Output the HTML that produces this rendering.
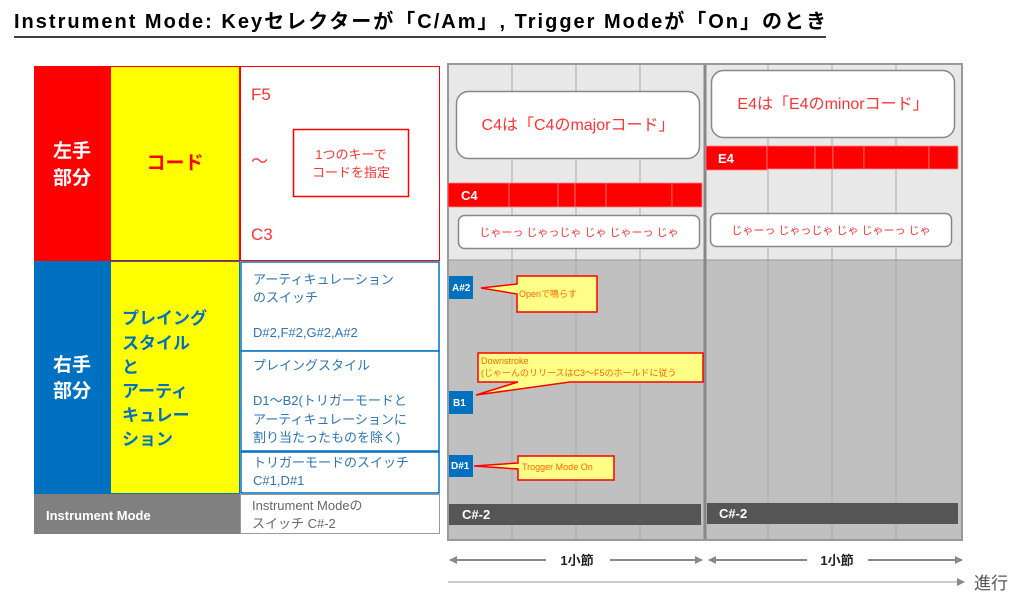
<!DOCTYPE html>
<html><head><meta charset="utf-8"><style>
body{margin:0;width:1024px;height:610px;background:#fff;overflow:hidden;font-family:"Liberation Sans","Noto Sans CJK JP",sans-serif;}
svg text{font-family:"Liberation Sans","Noto Sans CJK JP",sans-serif;}
</style></head><body>
<svg width="1024" height="610" viewBox="0 0 1024 610" xmlns="http://www.w3.org/2000/svg">
<defs>
<marker id="ah" markerWidth="8" markerHeight="8" refX="7" refY="4" orient="auto-start-reverse" markerUnits="userSpaceOnUse"><path d="M0,0 L8,4 L0,8 z" fill="#888"/></marker>
</defs>
<!-- title -->
<text x="14" y="28" font-size="20" font-weight="bold" fill="#000" textLength="812" lengthAdjust="spacing">Instrument Mode: Keyセレクターが「C/Am」, Trigger Modeが「On」のとき</text>
<line x1="14" y1="37" x2="826" y2="37" stroke="#000" stroke-width="1.5"/>

<!-- left table -->
<rect x="34" y="66" width="76" height="195" fill="#ff0000"/>
<text x="72" y="157" font-size="19" font-weight="bold" fill="#fff" text-anchor="middle">左手</text>
<text x="72" y="184" font-size="19" font-weight="bold" fill="#fff" text-anchor="middle">部分</text>
<rect x="110.5" y="66.5" width="129" height="194" fill="#ffff00" stroke="#ff0000"/>
<text x="175" y="169" font-size="19" font-weight="bold" fill="#ff0000" text-anchor="middle">コード</text>
<rect x="240.5" y="66.5" width="199" height="194" fill="#fff" stroke="#ff0000"/>
<text x="251" y="100" font-size="17" fill="#ff3333">F5</text>
<text x="251" y="167" font-size="17" fill="#ff3333">～</text>
<text x="251" y="240" font-size="17" fill="#ff3333">C3</text>
<rect x="293.5" y="129.5" width="115" height="67" fill="#fff" stroke="#ff0000" stroke-width="1.5"/>
<text x="351" y="159" font-size="13" fill="#ff3333" text-anchor="middle">1つのキーで</text>
<text x="351" y="177" font-size="13" fill="#ff3333" text-anchor="middle">コードを指定</text>

<rect x="34" y="261" width="76" height="233" fill="#0070c0"/>
<text x="72" y="371" font-size="19" font-weight="bold" fill="#fff" text-anchor="middle">右手</text>
<text x="72" y="397" font-size="19" font-weight="bold" fill="#fff" text-anchor="middle">部分</text>
<rect x="110.5" y="261.5" width="129" height="232" fill="#ffff00" stroke="#0070c0"/>
<g font-size="17" font-weight="bold" fill="#0070c0">
<text x="122" y="324">プレイング</text>
<text x="122" y="349">スタイル</text>
<text x="122" y="373">と</text>
<text x="122" y="397">アーティ</text>
<text x="122" y="421">キュレー</text>
<text x="122" y="445">ション</text>
</g>
<g fill="#fff" stroke="#0070c0" stroke-width="1.5">
<rect x="241" y="262" width="198" height="89"/>
<rect x="241" y="351" width="198" height="100"/>
<rect x="241" y="452" width="198" height="41"/>
</g>
<g font-size="13" fill="#2e75b6">
<text x="253" y="284">アーティキュレーション</text>
<text x="253" y="302">のスイッチ</text>
<text x="253" y="337">D#2,F#2,G#2,A#2</text>
<text x="253" y="370">プレイングスタイル</text>
<text x="253" y="405">D1～B2(トリガーモードと</text>
<text x="253" y="424">アーティキュレーションに</text>
<text x="253" y="442">割り当たったものを除く)</text>
<text x="253" y="467">トリガーモードのスイッチ</text>
<text x="253" y="485">C#1,D#1</text>
</g>
<rect x="34" y="494" width="206" height="40" fill="#808080"/>
<text x="46" y="520" font-size="13" font-weight="bold" fill="#fff">Instrument Mode</text>
<rect x="240.5" y="494.5" width="199" height="39" fill="#fff" stroke="#999"/>
<text x="252" y="510" font-size="13" fill="#666">Instrument Modeの</text>
<text x="252" y="528" font-size="13" fill="#666">スイッチ C#-2</text>

<!-- piano roll -->
<rect x="448" y="64" width="514" height="196" fill="#e8e8e8"/>
<rect x="448" y="260" width="514" height="280" fill="#c0c0c0"/>
<g stroke="#aaa" stroke-width="1">
<line x1="512" y1="64" x2="512" y2="540"/><line x1="576" y1="64" x2="576" y2="540"/><line x1="640" y1="64" x2="640" y2="540"/>
<line x1="768" y1="64" x2="768" y2="540"/><line x1="832" y1="64" x2="832" y2="540"/><line x1="896" y1="64" x2="896" y2="540"/>
</g>
<line x1="448" y1="260" x2="962" y2="260" stroke="#999"/>
<line x1="705" y1="64" x2="705" y2="540" stroke="#888" stroke-width="3"/>
<rect x="448" y="64" width="514" height="476" fill="none" stroke="#999" stroke-width="2"/>

<!-- callouts top -->
<rect x="456.5" y="91.5" width="243" height="67" rx="12" fill="#fff" stroke="#888" stroke-width="1.5"/>
<text x="578" y="130" font-size="16" fill="#ff3333" text-anchor="middle">C4は「C4のmajorコード」</text>
<rect x="711.5" y="70.5" width="243" height="67" rx="12" fill="#fff" stroke="#888" stroke-width="1.5"/>
<text x="833" y="109" font-size="16" fill="#ff3333" text-anchor="middle">E4は「E4のminorコード」</text>

<!-- C4 bar -->
<g fill="#ff0000" stroke="#ff8080" stroke-width="0.8">
<rect x="448" y="183" width="61" height="24"/><rect x="509" y="183" width="49" height="24"/><rect x="558" y="183" width="17" height="24"/><rect x="575" y="183" width="31" height="24"/><rect x="606" y="183" width="66" height="24"/><rect x="672" y="183" width="30" height="24"/>
<rect x="706" y="146" width="61" height="24"/><rect x="767" y="146" width="48" height="23"/><rect x="815" y="146" width="18" height="23"/><rect x="833" y="146" width="31" height="23"/><rect x="864" y="146" width="65" height="23"/><rect x="929" y="146" width="29" height="23"/>
</g>
<text x="461" y="200" font-size="13" font-weight="bold" fill="#fff">C4</text>
<text x="718" y="163" font-size="13" font-weight="bold" fill="#fff">E4</text>

<rect x="458.5" y="215.5" width="241" height="33" rx="6" fill="#fff" stroke="#888" stroke-width="1.5"/>
<text x="579" y="236" font-size="11" fill="#ff3333" text-anchor="middle">じゃーっ じゃっじゃ じゃ じゃーっ じゃ</text>
<rect x="710.5" y="213.5" width="241" height="33" rx="6" fill="#fff" stroke="#888" stroke-width="1.5"/>
<text x="831" y="234" font-size="11" fill="#ff3333" text-anchor="middle">じゃーっ じゃっじゃ じゃ じゃーっ じゃ</text>

<!-- key boxes -->
<g fill="#0070c0">
<rect x="449" y="276" width="24" height="23"/><rect x="449" y="391" width="24" height="23"/><rect x="449" y="455" width="24" height="22"/>
</g>
<g font-size="10" font-weight="bold" fill="#fff">
<text x="452" y="291">A#2</text><text x="453" y="406">B1</text><text x="451" y="469">D#1</text>
</g>

<!-- yellow callouts -->
<g fill="#ffff88" stroke="#ff0000" stroke-width="1.5">
<path d="M517,276 H597 V312 H517 V294 L481,288 L517,284 Z"/>
<path d="M478,353 H703 V382 H570 L476,395 L518,382 H478 Z"/>
<path d="M518,456 H614 V480 H518 V469 L474,466 L518,463 Z"/>
</g>
<g font-size="9" fill="#ff6600">
<text x="519" y="297">Openで鳴らす</text>
<text x="481" y="364">Downstroke</text>
<text x="481" y="376">(じゃーんのリリースはC3～F5のホールドに従う</text>
<text x="522" y="470">Trogger Mode On</text>
</g>

<!-- C#-2 bars -->
<rect x="449" y="504" width="252" height="21" fill="#555"/>
<rect x="707" y="503" width="251" height="21" fill="#555"/>
<text x="462" y="519" font-size="13" font-weight="bold" fill="#fff">C#-2</text>
<text x="719" y="518" font-size="13" font-weight="bold" fill="#fff">C#-2</text>

<!-- bottom arrows -->
<g stroke="#888" stroke-width="2">
<line x1="450" y1="560" x2="546" y2="560" marker-start="url(#ah)"/>
<line x1="610" y1="560" x2="702" y2="560" marker-end="url(#ah)"/>
<line x1="709" y1="560" x2="807" y2="560" marker-start="url(#ah)"/>
<line x1="868" y1="560" x2="962" y2="560" marker-end="url(#ah)"/>
</g>
<text x="577" y="565" font-size="13" font-weight="bold" fill="#222" text-anchor="middle">1小節</text>
<text x="837" y="565" font-size="13" font-weight="bold" fill="#222" text-anchor="middle">1小節</text>
<line x1="448" y1="582" x2="964" y2="582" stroke="#999" stroke-width="1" marker-end="url(#ah)"/>
<text x="974" y="589" font-size="17" fill="#555">進行</text>
</svg>
</body></html>
